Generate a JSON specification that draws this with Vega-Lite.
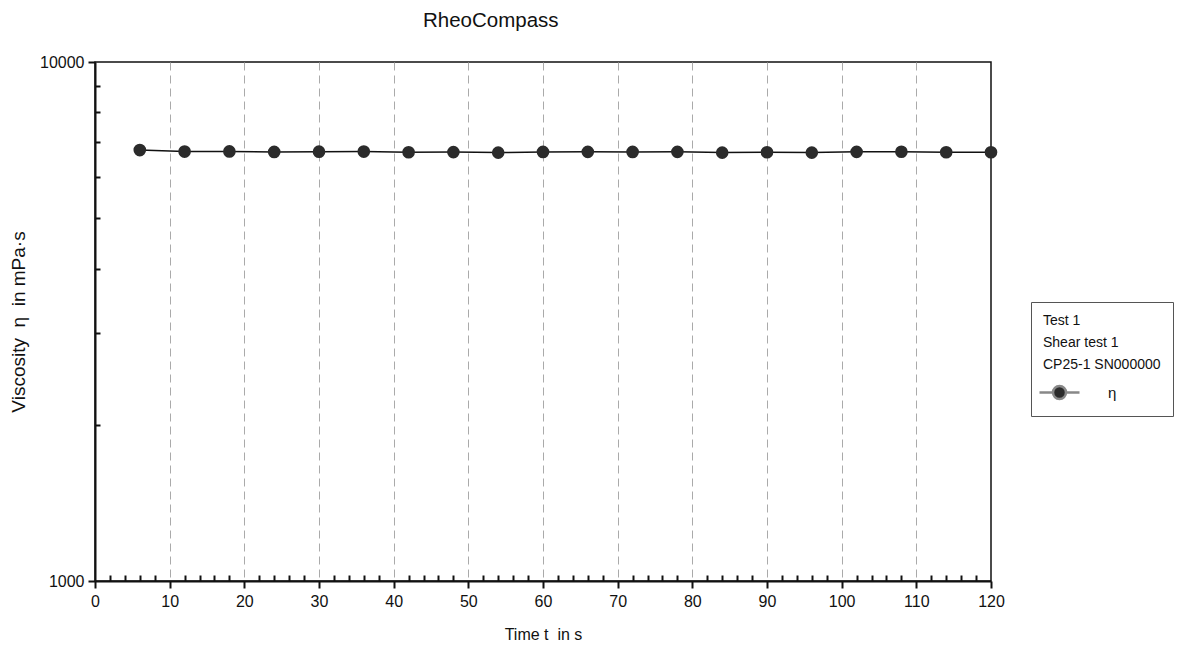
{
  "$schema": "https://vega.github.io/schema/vega-lite/v6.json",
  "autosize": {"type": "none"},
  "width": 896,
  "height": 519,
  "padding": {"left": 95, "top": 62, "right": 190, "bottom": 65},
  "background": "white",
  "title": {
    "text": "RheoCompass",
    "anchor": "start",
    "frame": "group",
    "dx": 328,
    "offset": 23,
    "font": "Liberation Sans",
    "fontSize": 20.5,
    "fontWeight": "normal",
    "color": "#111"
  },
  "config": {
    "view": {"stroke": "#111", "strokeWidth": 1.5},
    "font": "Liberation Sans"
  },
  "data": {
    "values": [
      {"t": 6, "eta": 6765, "series": "η"},
      {"t": 12, "eta": 6720, "series": "η"},
      {"t": 18, "eta": 6725, "series": "η"},
      {"t": 24, "eta": 6710, "series": "η"},
      {"t": 30, "eta": 6718, "series": "η"},
      {"t": 36, "eta": 6720, "series": "η"},
      {"t": 42, "eta": 6700, "series": "η"},
      {"t": 48, "eta": 6705, "series": "η"},
      {"t": 54, "eta": 6690, "series": "η"},
      {"t": 60, "eta": 6710, "series": "η"},
      {"t": 66, "eta": 6712, "series": "η"},
      {"t": 72, "eta": 6710, "series": "η"},
      {"t": 78, "eta": 6712, "series": "η"},
      {"t": 84, "eta": 6690, "series": "η"},
      {"t": 90, "eta": 6700, "series": "η"},
      {"t": 96, "eta": 6690, "series": "η"},
      {"t": 102, "eta": 6712, "series": "η"},
      {"t": 108, "eta": 6715, "series": "η"},
      {"t": 114, "eta": 6700, "series": "η"},
      {"t": 120, "eta": 6700, "series": "η"}
    ]
  },
  "encoding": {
    "x": {
      "field": "t",
      "type": "quantitative",
      "scale": {"domain": [0, 120], "nice": false, "zero": false},
      "axis": {
        "title": "Time t\u00a0\u00a0in s",
        "titleFont": "Liberation Sans",
        "titleFontSize": 16,
        "titleFontWeight": "normal",
        "titleColor": "#111",
        "titlePadding": 17,
        "values": [0,2,4,6,8,10,12,14,16,18,20,22,24,26,28,30,32,34,36,38,40,42,44,46,48,50,52,54,56,58,60,62,64,66,68,70,72,74,76,78,80,82,84,86,88,90,92,94,96,98,100,102,104,106,108,110,112,114,116,118,120],
        "labelExpr": "datum.value % 10 === 0 ? datum.label : ''",
        "labelFont": "Liberation Sans",
        "labelFontSize": 16,
        "labelColor": "#111",
        "labelPadding": 5,
        "labelFlush": false,
        "labelOverlap": false,
        "domainColor": "#111",
        "domainWidth": 2,
        "tickColor": "#111",
        "tickWidth": 2,
        "tickSize": {"condition": {"test": "datum.value % 10 === 0", "value": 7}, "value": -6},
        "grid": true,
        "gridColor": "#aaa",
        "gridDash": [8, 5],
        "gridWidth": 1,
        "gridOpacity": {"condition": {"test": "datum.value % 10 === 0 && datum.value > 0 && datum.value < 120", "value": 1}, "value": 0}
      }
    },
    "y": {
      "field": "eta",
      "type": "quantitative",
      "scale": {"type": "log", "domain": [1000, 10000], "nice": false},
      "axis": {
        "title": "Viscosity\u00a0\u00a0η\u00a0\u00a0in mPa·s",
        "titleFont": "Liberation Sans",
        "titleFontSize": 19,
        "titleFontWeight": "normal",
        "titleColor": "#111",
        "titlePadding": 11,
        "values": [1000,2000,3000,4000,5000,6000,7000,8000,9000,10000],
        "format": "d",
        "labelExpr": "datum.value === 1000 || datum.value === 10000 ? datum.label : ''",
        "labelFont": "Liberation Sans",
        "labelFontSize": 16,
        "labelColor": "#111",
        "labelPadding": 4,
        "labelFlush": false,
        "labelOverlap": false,
        "domainColor": "#111",
        "domainWidth": 2,
        "tickColor": "#111",
        "tickWidth": 2,
        "tickSize": {"condition": {"test": "datum.value === 1000 || datum.value === 10000", "value": 7}, "value": -5},
        "grid": false
      }
    }
  },
  "layer": [
    {
      "mark": {"type": "line", "color": "#111", "strokeWidth": 1.5, "clip": false}
    },
    {
      "mark": {"type": "point", "filled": true, "shape": "circle", "size": 160, "opacity": 1, "clip": false},
      "encoding": {
        "color": {
          "field": "series",
          "type": "nominal",
          "scale": {"range": ["#2b2b2b"]},
          "legend": {
            "orient": "none",
            "legendX": 936,
            "legendY": 240,
            "title": ["\u00a0Test 1", "Shear test 1", "CP25-1 SN000000"],
            "titleFont": "Liberation Sans",
            "titleFontSize": 14,
            "titleFontWeight": "normal",
            "titleColor": "#111",
            "titleLineHeight": 22,
            "titlePadding": 9,
            "padding": 12,
            "strokeColor": "#555",
            "fillColor": "white",
            "symbolType": "M-2,0L-0.65,0M0.65,0L2,0M-0.65,0A0.65,0.65,0,1,1,0.65,0A0.65,0.65,0,1,1,-0.65,0Z",
            "symbolSize": 400,
            "symbolStrokeColor": "#888",
            "symbolStrokeWidth": 2.5,
            "symbolOffset": 5,
            "labelFont": "Liberation Sans",
            "labelFontSize": 15,
            "labelColor": "#111",
            "labelOffset": 37
          }
        }
      }
    }
  ]
}
